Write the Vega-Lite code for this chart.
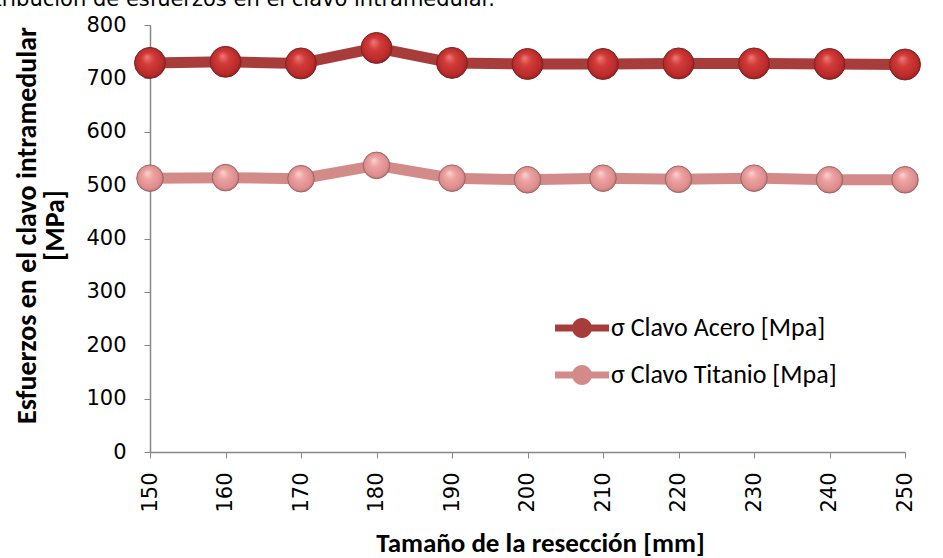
{
  "$schema": "https://vega.github.io/schema/vega-lite/v6.json",
  "autosize": "none",
  "width": 755,
  "height": 427,
  "padding": {"left": 150, "top": 25, "right": 38, "bottom": 106},
  "background": "white",
  "config": {"view": {"stroke": null}},
  "title": {
    "text": "Distribución de esfuerzos en el clavo intramedular.",
    "anchor": "start",
    "frame": "group",
    "align": "right",
    "dx": 345,
    "dy": 33,
    "baseline": "alphabetic",
    "offset": 20,
    "font": "URW Gothic, Century Gothic, DejaVu Sans",
    "fontSize": 21,
    "fontWeight": "normal",
    "color": "#000000"
  },
  "data": {
    "values": [
      {"x": 150, "serie": "σ Clavo Acero [Mpa]", "v": 729},
      {"x": 160, "serie": "σ Clavo Acero [Mpa]", "v": 731},
      {"x": 170, "serie": "σ Clavo Acero [Mpa]", "v": 728},
      {"x": 180, "serie": "σ Clavo Acero [Mpa]", "v": 757},
      {"x": 190, "serie": "σ Clavo Acero [Mpa]", "v": 729},
      {"x": 200, "serie": "σ Clavo Acero [Mpa]", "v": 727},
      {"x": 210, "serie": "σ Clavo Acero [Mpa]", "v": 727},
      {"x": 220, "serie": "σ Clavo Acero [Mpa]", "v": 728},
      {"x": 230, "serie": "σ Clavo Acero [Mpa]", "v": 728},
      {"x": 240, "serie": "σ Clavo Acero [Mpa]", "v": 727},
      {"x": 250, "serie": "σ Clavo Acero [Mpa]", "v": 726},
      {"x": 150, "serie": "σ Clavo Titanio [Mpa]", "v": 513},
      {"x": 160, "serie": "σ Clavo Titanio [Mpa]", "v": 514},
      {"x": 170, "serie": "σ Clavo Titanio [Mpa]", "v": 512},
      {"x": 180, "serie": "σ Clavo Titanio [Mpa]", "v": 537},
      {"x": 190, "serie": "σ Clavo Titanio [Mpa]", "v": 513},
      {"x": 200, "serie": "σ Clavo Titanio [Mpa]", "v": 510},
      {"x": 210, "serie": "σ Clavo Titanio [Mpa]", "v": 513},
      {"x": 220, "serie": "σ Clavo Titanio [Mpa]", "v": 511},
      {"x": 230, "serie": "σ Clavo Titanio [Mpa]", "v": 513},
      {"x": 240, "serie": "σ Clavo Titanio [Mpa]", "v": 510},
      {"x": 250, "serie": "σ Clavo Titanio [Mpa]", "v": 510}
    ]
  },
  "encoding": {
    "x": {
      "field": "x",
      "type": "quantitative",
      "scale": {"domain": [150, 250], "nice": false, "zero": false},
      "axis": {
        "title": "Tamaño de la resección [mm]",
        "values": [150, 160, 170, 180, 190, 200, 210, 220, 230, 240, 250],
        "grid": false,
        "labelAngle": 270,
        "labelFont": "URW Gothic, Century Gothic, DejaVu Sans",
        "labelFontSize": 21,
        "labelColor": "#000000",
        "labelPadding": 14,
        "domainColor": "#868686",
        "tickColor": "#868686",
        "tickSize": 6,
        "domainWidth": 1.5,
        "titleFont": "Carlito, Lato, sans-serif",
        "titleFontSize": 27,
        "titleFontWeight": "bold",
        "titleColor": "#000000",
        "titleX": 390,
        "titleY": 91,
        "titleAlign": "center",
        "titleBaseline": "middle",
        "labelFlush": false,
        "labelOverlap": false
      }
    },
    "y": {
      "field": "v",
      "type": "quantitative",
      "scale": {"domain": [0, 800], "nice": false},
      "axis": {
        "title": ["Esfuerzos en el clavo intramedular", "[MPa]"],
        "values": [0, 100, 200, 300, 400, 500, 600, 700, 800],
        "grid": false,
        "labelFont": "URW Gothic, Century Gothic, DejaVu Sans",
        "labelFontSize": 21,
        "labelColor": "#000000",
        "labelPadding": 18,
        "domainColor": "#868686",
        "tickColor": "#868686",
        "tickSize": 6,
        "domainWidth": 1.5,
        "titleFont": "Carlito, Lato, sans-serif",
        "titleFontSize": 28,
        "titleFontWeight": "bold",
        "titleColor": "#000000",
        "titleX": -123,
        "titleY": 200,
        "titleAngle": 270,
        "titleAlign": "center",
        "titleBaseline": "middle",
        "titleLineHeight": 28,
        "labelFlush": false
      }
    }
  },
  "layer": [
    {
      "mark": {"type": "line", "strokeWidth": 11, "strokeJoin": "round"},
      "encoding": {
        "color": {
          "field": "serie",
          "type": "nominal",
          "scale": {
            "domain": ["σ Clavo Acero [Mpa]", "σ Clavo Titanio [Mpa]"],
            "range": ["#A83C3A", "#D38B8A"]
          },
          "legend": {
            "title": null,
            "orient": "none",
            "legendX": 405,
            "legendY": 276,
            "symbolType": "M-1,-0.13 H1 V0.13 H-1 Z M0.37,0 A0.37,0.37 0 1,1 -0.37,0 A0.37,0.37 0 1,1 0.37,0 Z",
            "symbolSize": 2916,
            "symbolStrokeWidth": 0,
            "labelFont": "Carlito, Lato, sans-serif",
            "labelFontSize": 26,
            "labelLimit": 0,
            "labelColor": "#000000",
            "labelOffset": 2,
            "rowPadding": 7,
            "encode": {
              "symbols": {
                "update": {
                  "fill": {"scale": "color", "field": "value"},
                  "stroke": {"value": "transparent"},
                  "opacity": {"value": 1}
                }
              }
            }
          }
        }
      }
    },
    {
      "transform": [{"filter": "datum.serie === 'σ Clavo Acero [Mpa]'"}],
      "mark": {
        "type": "point",
        "filled": true,
        "shape": "circle",
        "size": 960,
        "opacity": 1,
        "stroke": "#7E2424",
        "strokeWidth": 1,
        "fill": {
          "gradient": "radial",
          "x1": 0.4, "y1": 0.3, "r1": 0,
          "x2": 0.5, "y2": 0.5, "r2": 0.55,
          "stops": [
            {"offset": 0, "color": "#F07A78"},
            {"offset": 0.35, "color": "#D23C3A"},
            {"offset": 0.8, "color": "#B82A29"},
            {"offset": 1, "color": "#7E1E1E"}
          ]
        }
      }
    },
    {
      "transform": [{"filter": "datum.serie === 'σ Clavo Titanio [Mpa]'"}],
      "mark": {
        "type": "point",
        "filled": true,
        "shape": "circle",
        "size": 707,
        "opacity": 1,
        "stroke": "#A06464",
        "strokeWidth": 1,
        "fill": {
          "gradient": "radial",
          "x1": 0.4, "y1": 0.3, "r1": 0,
          "x2": 0.5, "y2": 0.5, "r2": 0.55,
          "stops": [
            {"offset": 0, "color": "#FBD3D2"},
            {"offset": 0.35, "color": "#EDA3A2"},
            {"offset": 0.8, "color": "#DC8C8B"},
            {"offset": 1, "color": "#A86868"}
          ]
        }
      }
    }
  ]
}
